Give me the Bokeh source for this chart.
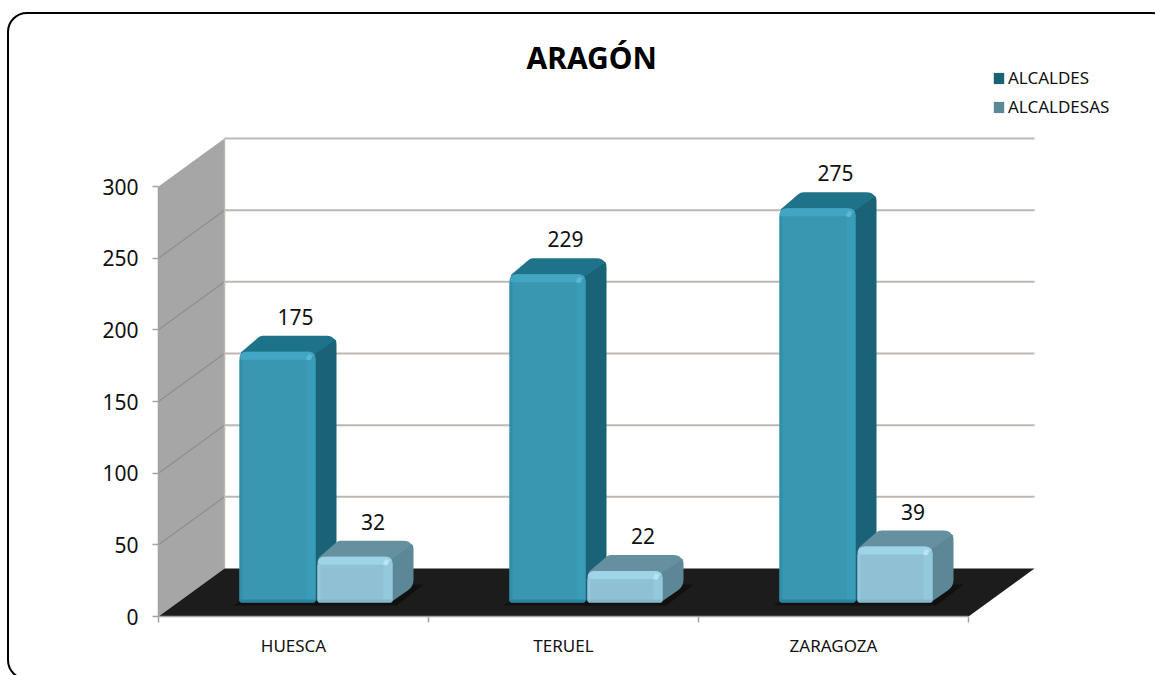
from bokeh.plotting import figure
from bokeh.models import (Range1d, Legend, LegendItem, FixedTicker, Title, InlineStyleSheet)
from bokeh.core.properties import value
from bokeh.embed import file_html
from bokeh.resources import INLINE

# ---- data ----
categories = ["HUESCA", "TERUEL", "ZARAGOZA"]
alcaldes = [175, 229, 275]
alcaldesas = [32, 22, 39]
y_ticks = [0, 50, 100, 150, 200, 250, 300]
title_text = "ARAGÓN"
series_names = ["ALCALDES", "ALCALDESAS"]

# ---- scale: pixels per data unit ----
PX_X = 270.0
PX_Y = 430.0 / 300.0
FRAME_W, FRAME_H = 997, 554
FONT = value("Noto Sans")

frame_css = InlineStyleSheet(css="""
:host { position: relative; overflow: hidden; }
:host::after {
  content: ""; position: absolute; left: 7px; top: 12px; width: 1165px; height: 668px;
  box-sizing: border-box; border: 2px solid #000; border-radius: 20px; pointer-events: none;
}
""")

p = figure(width=1155, height=675, frame_width=FRAME_W, frame_height=FRAME_H,
           x_range=Range1d(0, FRAME_W / PX_X), y_range=Range1d(0, FRAME_H / PX_Y),
           output_backend="svg", toolbar_location=None,
           min_border_left=158, min_border_right=0, min_border_top=62, min_border_bottom=59,
           outline_line_color=None, background_fill_color=None, border_fill_color="white",
           stylesheets=[frame_css])
p.grid.visible = False


def xs(pts):
    return [a / PX_X for a, _ in pts]


def ys(pts):
    return [b / PX_Y for _, b in pts]


def rounded(pts, radii):
    """Polygon in pixel offsets with quadratic rounded corners."""
    out = []
    n = len(pts)
    for i, (x, y) in enumerate(pts):
        r = radii[i]
        if r == 0:
            out.append((x, y))
            continue
        px, py = pts[i - 1]
        nx, ny = pts[(i + 1) % n]
        d1 = ((px - x) ** 2 + (py - y) ** 2) ** 0.5
        d2 = ((nx - x) ** 2 + (ny - y) ** 2) ** 0.5
        a = (x + (px - x) * r / d1, y + (py - y) * r / d1)
        b = (x + (nx - x) * r / d2, y + (ny - y) * r / d2)
        for k in range(7):
            t = k / 6
            out.append(((1 - t) ** 2 * a[0] + 2 * t * (1 - t) * x + t * t * b[0],
                        (1 - t) ** 2 * a[1] + 2 * t * (1 - t) * y + t * t * b[1]))
    return out


def poly(polys, color):
    return p.patches([xs(q) for q in polys], [ys(q) for q in polys],
                     fill_color=color, line_color=None)


# ---- 3D box: depth of the walls and floor, in pixels ----
DX, DY = 66, 48
GRID = "#bdb8b2"
span = len(categories) * PX_X
top_v = y_ticks[-1] * PX_Y

poly([[(0, 0), (DX, DY), (DX, top_v + DY), (0, top_v)]], "#a6a6a6")
for t in y_ticks[1:]:
    h = t * PX_Y
    p.line(xs([(DX, h + DY), (span + DX, h + DY)]), ys([(DX, h + DY), (span + DX, h + DY)]),
           line_color=GRID, line_width=2)
    if t < y_ticks[-1]:
        p.line(xs([(0, h), (DX, h + DY)]), ys([(0, h), (DX, h + DY)]),
               line_color="#8e8e8e", line_width=1.2)
p.line(xs([(DX, DY), (DX, top_v + DY)]), ys([(DX, DY), (DX, top_v + DY)]),
       line_color=GRID, line_width=1.5)
poly([[(0, 0), (DX, DY), (span + DX, DY), (span, 0)]], "#1c1c1c")

# ---- bars ----
BASE = 14
LEFT = [81, 159]
WIDTH = [76, 75]
BD_X, BD_Y = 21, 16
R = 7

STYLE = [
    dict(front="#3a97b2", left="#338fa9", right="#399cb8", top="#42a6c2", topface="#1e7289",
         side="#1a6376", bottom="#2b849e", spark="#5cb8d1"),
    dict(front="#8fc0d4", left="#96c8dc", right="#94c9dd", top="#9fd3e8", topface="#64909f",
         side="#5b8796", bottom="#86b8cc", spark="#b8e3f2"),
]

shadow = []
for c in range(len(categories)):
    for s in range(2):
        l = c * PX_X + LEFT[s]
        r = l + WIDTH[s]
        shadow.append([(l - 6, BASE - 3), (r + 4, BASE - 3), (r + BD_X + 10, BASE + BD_Y + 2),
                       (l + 30, BASE + BD_Y + 2)])
poly(shadow, "#101010")

legend_items = []
for s, vals in enumerate([alcaldes, alcaldesas]):
    st = STYLE[s]
    tops, sides, fronts, lefts, rights, tstrip, bstrip, sparks = [], [], [], [], [], [], [], []
    for c, v in enumerate(vals):
        l = c * PX_X + LEFT[s]
        r = l + WIDTH[s]
        b = BASE
        t = BASE + v * PX_Y
        sides.append(rounded([(r - 2, b), (r + BD_X, b + BD_Y), (r + BD_X, t + BD_Y), (r - 2, t)],
                             [3, R, R + 2, 0]))
        tops.append(rounded([(l, t - 2), (l + BD_X, t + BD_Y), (r + BD_X - 1, t + BD_Y),
                             (r + BD_X - 1, t + BD_Y - 4), (r, t - 2)], [3, 3, R + 2, 0, 0]))
        fronts.append(rounded([(l, b), (l, t), (r, t), (r, b)], [3, R, R, 3]))
        lefts.append([(l, b + 2), (l, t - 8), (l + 3, t - 8), (l + 3, b + 2)])
        rights.append(rounded([(r - 9, b + 1), (r - 9, t - 6), (r, t - 6), (r, b + 2)], [0, 0, 0, 2]))
        tstrip.append(rounded([(l + 2, t - 8), (l, t - 4), (l + 4, t), (r - 4, t), (r, t - 4), (r - 9, t - 8)],
                              [0, 2, 4, 4, 2, 0]))
        bstrip.append(rounded([(l, b + 3), (l, b), (r, b), (r, b + 3)], [0, 2, 2, 0]))
        sparks.append(rounded([(r - 10, t - 8), (r - 7, t - 2), (r - 3, t - 4), (r - 5, t - 9)], [2, 2, 2, 2]))
    r_side = poly(sides, st["side"])
    poly(tops, st["topface"])
    poly(fronts, st["front"])
    poly(lefts, st["left"])
    poly(rights, st["right"])
    poly(tstrip, st["top"])
    poly(bstrip, st["bottom"])
    poly(sparks, st["spark"])
    legend_items.append(LegendItem(label=series_names[s], renderers=[r_side]))

    # value labels
    lx = [(c * PX_X + LEFT[s] + WIDTH[s] / 2 + 18) / PX_X for c in range(len(vals))]
    ly = [(BASE + v * PX_Y + 35) / PX_Y for v in vals]
    p.text(lx, ly, text=[str(v) for v in vals], text_font=FONT, text_font_size="21px",
           text_align="center", text_baseline="middle", text_color="#111111")

# ---- axes ----
yax = p.yaxis[0]
yax.ticker = FixedTicker(ticks=y_ticks)
yax.bounds = (0, y_ticks[-1])
yax.axis_line_color = "#a3a3a3"
yax.axis_line_width = 1.5
yax.major_tick_line_color = "#a3a3a3"
yax.major_tick_line_width = 1.5
yax.major_tick_in = 0
yax.major_tick_out = 6
yax.minor_tick_line_color = None
yax.major_label_text_font = "Noto Sans"
yax.major_label_text_font_size = "21px"
yax.major_label_text_color = "#111111"
yax.major_label_standoff = 14

xax = p.xaxis[0]
mid = [i + 0.5 for i in range(len(categories))]
xax.ticker = FixedTicker(ticks=mid, minor_ticks=list(range(len(categories) + 1)))
xax.major_label_overrides = {m: n for m, n in zip(mid, categories)}
xax.bounds = (0, len(categories))
xax.axis_line_color = "#a3a3a3"
xax.axis_line_width = 1.5
xax.major_tick_line_color = None
xax.minor_tick_line_color = "#a3a3a3"
xax.minor_tick_line_width = 1.5
xax.minor_tick_in = 0
xax.minor_tick_out = 6
xax.major_label_text_font = "Noto Sans"
xax.major_label_text_font_size = "17px"
xax.major_label_text_color = "#111111"
xax.major_label_standoff = 11

# ---- legend ----
legend = Legend(items=legend_items, location=(834, 498), orientation="vertical",
                background_fill_alpha=0, border_line_color=None, margin=0, padding=0,
                spacing=6, glyph_width=13, glyph_height=14, label_standoff=3,
                label_text_font="Noto Sans", label_text_font_size="17px",
                label_text_color="#111111", label_height=20)
p.add_layout(legend)

# ---- title ----
p.title = Title(text=title_text, text_font="Noto Sans", text_font_size="30px",
                text_font_style="bold", text_color="#000000", align="left",
                offset=368, standoff=-30)

open("out.html", "w").write(file_html(p, INLINE))
